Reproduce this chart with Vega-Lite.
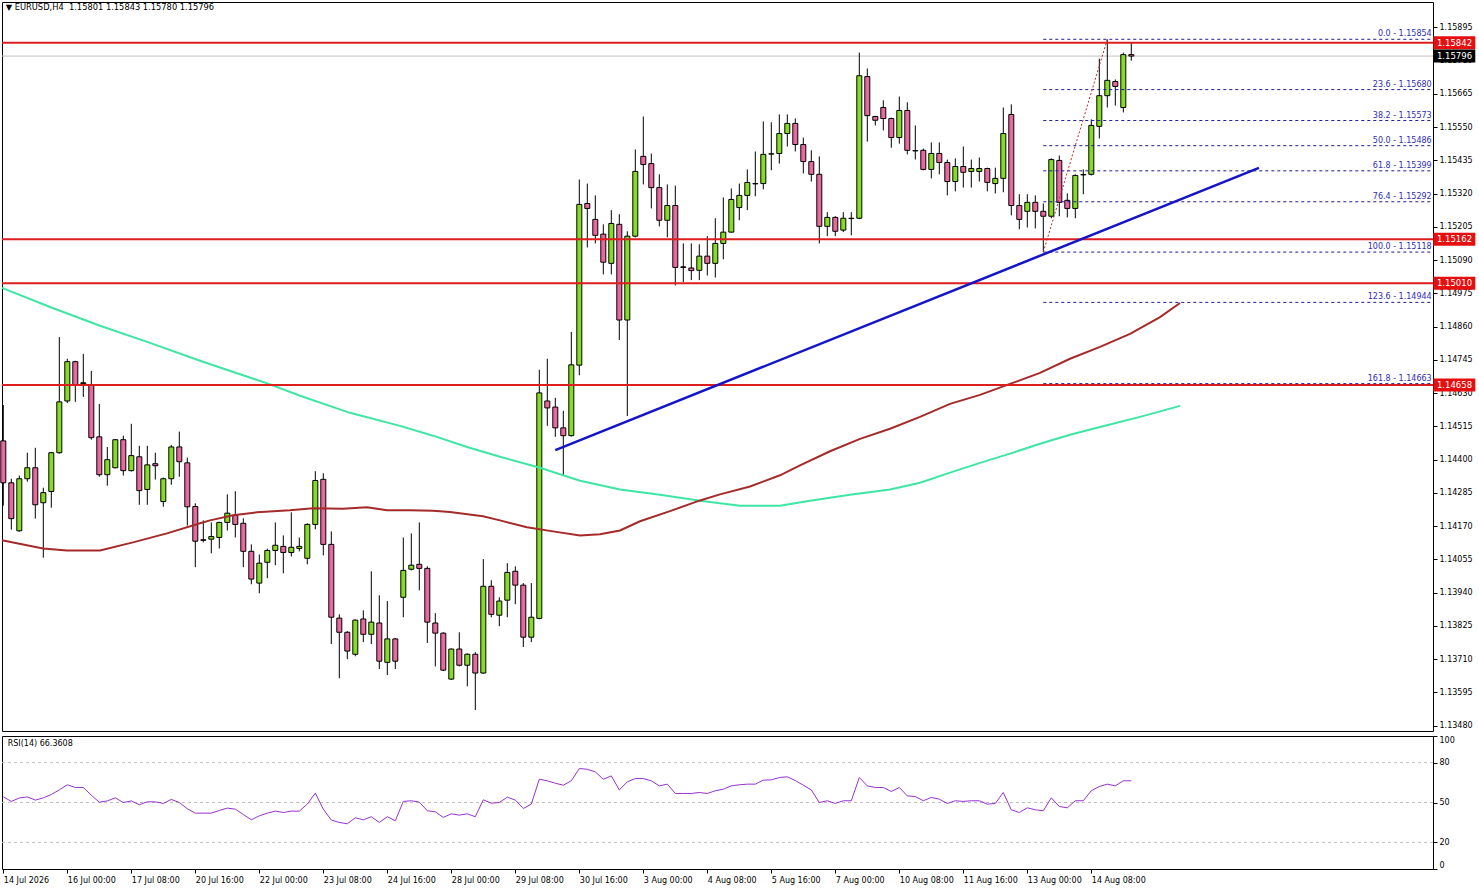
{
"$schema":"https://vega.github.io/schema/vega-lite/v6.json",
"background":"white",
"padding":{"left":-3,"top":1,"right":0,"bottom":0},
"autosize":{"type":"pad"},
"config":{"view":{"stroke":"#000000","strokeWidth":1},"font":"DejaVu Sans","scale":{"continuousPadding":0},"axis":{"labelFont":"DejaVu Sans","labelFontSize":8,"labelColor":"#000000","tickColor":"#000000","domainColor":"#000000","tickSize":4,"grid":false,"labelOverlap":false},"concat":{"spacing":3}},
"datasets":{
"candles":[
{"i":0,"o":1.14465,"h":1.14589,"l":1.14241,"c":1.1432},
{"i":1,"o":1.1432,"h":1.14334,"l":1.14158,"c":1.14196},
{"i":2,"o":1.14154,"h":1.14345,"l":1.14151,"c":1.14334},
{"i":3,"o":1.14334,"h":1.14424,"l":1.14324,"c":1.14372},
{"i":4,"o":1.14372,"h":1.14441,"l":1.14196,"c":1.14244},
{"i":5,"o":1.14251,"h":1.14303,"l":1.14061,"c":1.14286},
{"i":6,"o":1.1429,"h":1.14426,"l":1.14234,"c":1.14424},
{"i":7,"o":1.14424,"h":1.14824,"l":1.14421,"c":1.146},
{"i":8,"o":1.14603,"h":1.14749,"l":1.14596,"c":1.14739},
{"i":9,"o":1.14739,"h":1.14742,"l":1.146,"c":1.14659},
{"i":10,"o":1.14663,"h":1.14766,"l":1.14617,"c":1.14666},
{"i":11,"o":1.14659,"h":1.14707,"l":1.14469,"c":1.14476},
{"i":12,"o":1.14479,"h":1.14593,"l":1.14341,"c":1.14348},
{"i":13,"o":1.14348,"h":1.14444,"l":1.1431,"c":1.144},
{"i":14,"o":1.14372,"h":1.14471,"l":1.1437,"c":1.14469},
{"i":15,"o":1.14469,"h":1.14483,"l":1.14345,"c":1.14362},
{"i":16,"o":1.14362,"h":1.14524,"l":1.14359,"c":1.14414},
{"i":17,"o":1.1441,"h":1.14448,"l":1.14244,"c":1.14293},
{"i":18,"o":1.14297,"h":1.14448,"l":1.14244,"c":1.14382},
{"i":19,"o":1.14386,"h":1.14424,"l":1.14331,"c":1.14379},
{"i":20,"o":1.14255,"h":1.14338,"l":1.14237,"c":1.14334},
{"i":21,"o":1.14334,"h":1.14451,"l":1.14313,"c":1.14444},
{"i":22,"o":1.14444,"h":1.14497,"l":1.14341,"c":1.14393},
{"i":23,"o":1.14389,"h":1.14407,"l":1.14172,"c":1.14237},
{"i":24,"o":1.14238,"h":1.14249,"l":1.14028,"c":1.14118},
{"i":25,"o":1.14123,"h":1.1419,"l":1.14114,"c":1.14121},
{"i":26,"o":1.14125,"h":1.14183,"l":1.14076,"c":1.14134},
{"i":27,"o":1.14131,"h":1.14185,"l":1.14093,"c":1.14183},
{"i":28,"o":1.14183,"h":1.1428,"l":1.14155,"c":1.14215},
{"i":29,"o":1.14208,"h":1.14291,"l":1.14131,"c":1.14176},
{"i":30,"o":1.1418,"h":1.14197,"l":1.14028,"c":1.14083},
{"i":31,"o":1.14083,"h":1.14107,"l":1.13969,"c":1.13987},
{"i":32,"o":1.13973,"h":1.14072,"l":1.13938,"c":1.14042},
{"i":33,"o":1.14045,"h":1.14092,"l":1.1399,"c":1.14086},
{"i":34,"o":1.14086,"h":1.14183,"l":1.14035,"c":1.14104},
{"i":35,"o":1.141,"h":1.14138,"l":1.14007,"c":1.14079},
{"i":36,"o":1.14079,"h":1.14218,"l":1.14065,"c":1.14097},
{"i":37,"o":1.14093,"h":1.14131,"l":1.14083,"c":1.141},
{"i":38,"o":1.14059,"h":1.1418,"l":1.14038,"c":1.14176},
{"i":39,"o":1.14176,"h":1.1436,"l":1.14159,"c":1.14328},
{"i":40,"o":1.14332,"h":1.14353,"l":1.14069,"c":1.14107},
{"i":41,"o":1.14107,"h":1.14152,"l":1.13762,"c":1.13855},
{"i":42,"o":1.13852,"h":1.13865,"l":1.13644,"c":1.13803},
{"i":43,"o":1.13803,"h":1.13807,"l":1.1371,"c":1.13738},
{"i":44,"o":1.13727,"h":1.13847,"l":1.1372,"c":1.13845},
{"i":45,"o":1.13849,"h":1.13879,"l":1.13769,"c":1.13796},
{"i":46,"o":1.13796,"h":1.14014,"l":1.13762,"c":1.13838},
{"i":47,"o":1.13835,"h":1.13931,"l":1.13676,"c":1.13703},
{"i":48,"o":1.13699,"h":1.13911,"l":1.13655,"c":1.1378},
{"i":49,"o":1.1378,"h":1.13783,"l":1.13676,"c":1.13703},
{"i":50,"o":1.13924,"h":1.14131,"l":1.13855,"c":1.14017},
{"i":51,"o":1.14021,"h":1.14145,"l":1.14017,"c":1.14035},
{"i":52,"o":1.14038,"h":1.14183,"l":1.13948,"c":1.14024},
{"i":53,"o":1.14024,"h":1.14031,"l":1.13766,"c":1.13838},
{"i":54,"o":1.13835,"h":1.13869,"l":1.13685,"c":1.138},
{"i":55,"o":1.138,"h":1.13803,"l":1.13669,"c":1.13672},
{"i":56,"o":1.13641,"h":1.13747,"l":1.13638,"c":1.13745},
{"i":57,"o":1.13745,"h":1.13803,"l":1.13685,"c":1.13689},
{"i":58,"o":1.13689,"h":1.1373,"l":1.13616,"c":1.13727},
{"i":59,"o":1.13727,"h":1.13734,"l":1.13534,"c":1.13662},
{"i":60,"o":1.13662,"h":1.14056,"l":1.13659,"c":1.13962},
{"i":61,"o":1.13962,"h":1.13983,"l":1.13855,"c":1.13865},
{"i":62,"o":1.13862,"h":1.13924,"l":1.13824,"c":1.13911},
{"i":63,"o":1.13914,"h":1.14042,"l":1.13855,"c":1.1401},
{"i":64,"o":1.14014,"h":1.14031,"l":1.139,"c":1.13966},
{"i":65,"o":1.13966,"h":1.13973,"l":1.13752,"c":1.13786},
{"i":66,"o":1.13786,"h":1.13973,"l":1.13769,"c":1.13855},
{"i":67,"o":1.13851,"h":1.14711,"l":1.13848,"c":1.14631},
{"i":68,"o":1.14603,"h":1.14749,"l":1.14517,"c":1.14579},
{"i":69,"o":1.14582,"h":1.14614,"l":1.14479,"c":1.1451},
{"i":70,"o":1.1451,"h":1.14569,"l":1.14345,"c":1.14483},
{"i":71,"o":1.14483,"h":1.14842,"l":1.1448,"c":1.14728},
{"i":72,"o":1.14727,"h":1.15369,"l":1.14692,"c":1.15283},
{"i":73,"o":1.15286,"h":1.15355,"l":1.15134,"c":1.15269},
{"i":74,"o":1.15231,"h":1.15314,"l":1.15148,"c":1.15176},
{"i":75,"o":1.1518,"h":1.15214,"l":1.15041,"c":1.15083},
{"i":76,"o":1.15079,"h":1.15263,"l":1.15041,"c":1.15217},
{"i":77,"o":1.15214,"h":1.15249,"l":1.14814,"c":1.14883},
{"i":78,"o":1.14883,"h":1.1519,"l":1.14551,"c":1.15173},
{"i":79,"o":1.15173,"h":1.15473,"l":1.15169,"c":1.15397},
{"i":80,"o":1.15449,"h":1.15587,"l":1.15352,"c":1.15421},
{"i":81,"o":1.15424,"h":1.15459,"l":1.15269,"c":1.15341},
{"i":82,"o":1.15341,"h":1.15387,"l":1.15207,"c":1.15228},
{"i":83,"o":1.15228,"h":1.15352,"l":1.15169,"c":1.15279},
{"i":84,"o":1.15279,"h":1.15348,"l":1.15003,"c":1.15065},
{"i":85,"o":1.15067,"h":1.15148,"l":1.15014,"c":1.15065},
{"i":86,"o":1.15063,"h":1.15148,"l":1.15021,"c":1.15054},
{"i":87,"o":1.15055,"h":1.15145,"l":1.15021,"c":1.15104},
{"i":88,"o":1.15104,"h":1.15173,"l":1.15037,"c":1.15079},
{"i":89,"o":1.15079,"h":1.15235,"l":1.1503,"c":1.15148},
{"i":90,"o":1.15148,"h":1.15307,"l":1.15093,"c":1.15187},
{"i":91,"o":1.15187,"h":1.15338,"l":1.15185,"c":1.153},
{"i":92,"o":1.15272,"h":1.15355,"l":1.15228,"c":1.15314},
{"i":93,"o":1.15314,"h":1.15404,"l":1.15263,"c":1.15359},
{"i":94,"o":1.15355,"h":1.15466,"l":1.15311,"c":1.15354},
{"i":95,"o":1.15355,"h":1.1557,"l":1.15335,"c":1.15456},
{"i":96,"o":1.15457,"h":1.15567,"l":1.15401,"c":1.15458},
{"i":97,"o":1.15459,"h":1.15594,"l":1.15424,"c":1.15528},
{"i":98,"o":1.15528,"h":1.15594,"l":1.15483,"c":1.15563},
{"i":99,"o":1.15563,"h":1.1558,"l":1.15466,"c":1.1549},
{"i":100,"o":1.1549,"h":1.15514,"l":1.1539,"c":1.15431},
{"i":101,"o":1.15431,"h":1.1547,"l":1.15362,"c":1.15387},
{"i":102,"o":1.15387,"h":1.15449,"l":1.15148,"c":1.15207},
{"i":103,"o":1.15207,"h":1.15256,"l":1.15173,"c":1.15238},
{"i":104,"o":1.15238,"h":1.15242,"l":1.15173,"c":1.1519},
{"i":105,"o":1.15194,"h":1.15256,"l":1.15187,"c":1.15235},
{"i":106,"o":1.15235,"h":1.15256,"l":1.15176,"c":1.15234},
{"i":107,"o":1.15235,"h":1.15808,"l":1.15232,"c":1.15728},
{"i":108,"o":1.15725,"h":1.15753,"l":1.155,"c":1.1559},
{"i":109,"o":1.15587,"h":1.15589,"l":1.15556,"c":1.15574},
{"i":110,"o":1.15618,"h":1.15643,"l":1.15539,"c":1.1558},
{"i":111,"o":1.1558,"h":1.15583,"l":1.15479,"c":1.15514},
{"i":112,"o":1.15514,"h":1.15656,"l":1.15493,"c":1.15608},
{"i":113,"o":1.15608,"h":1.15636,"l":1.15456,"c":1.1547},
{"i":114,"o":1.15469,"h":1.15556,"l":1.15438,"c":1.15468},
{"i":115,"o":1.1547,"h":1.15476,"l":1.15401,"c":1.15404},
{"i":116,"o":1.15404,"h":1.15497,"l":1.15373,"c":1.15459},
{"i":117,"o":1.15459,"h":1.15497,"l":1.15387,"c":1.15428},
{"i":118,"o":1.15428,"h":1.15438,"l":1.15314,"c":1.15362},
{"i":119,"o":1.15362,"h":1.15442,"l":1.15328,"c":1.15414},
{"i":120,"o":1.15414,"h":1.15483,"l":1.15341,"c":1.15394},
{"i":121,"o":1.15397,"h":1.15438,"l":1.15341,"c":1.15407},
{"i":122,"o":1.15397,"h":1.15445,"l":1.15362,"c":1.15407},
{"i":123,"o":1.15407,"h":1.1541,"l":1.15328,"c":1.15359},
{"i":124,"o":1.15355,"h":1.1541,"l":1.15321,"c":1.15373},
{"i":125,"o":1.15373,"h":1.15618,"l":1.15325,"c":1.15528},
{"i":126,"o":1.15594,"h":1.15629,"l":1.15245,"c":1.15279},
{"i":127,"o":1.15279,"h":1.15318,"l":1.15197,"c":1.15231},
{"i":128,"o":1.15259,"h":1.15318,"l":1.15203,"c":1.1529},
{"i":129,"o":1.1529,"h":1.15314,"l":1.152,"c":1.15259},
{"i":130,"o":1.15259,"h":1.15286,"l":1.15118,"c":1.15242},
{"i":131,"o":1.15242,"h":1.15442,"l":1.15235,"c":1.15438},
{"i":132,"o":1.15435,"h":1.15452,"l":1.15242,"c":1.1529},
{"i":133,"o":1.15297,"h":1.15321,"l":1.15238,"c":1.15269},
{"i":134,"o":1.15269,"h":1.15387,"l":1.15235,"c":1.15383},
{"i":135,"o":1.15385,"h":1.15404,"l":1.15318,"c":1.15386},
{"i":136,"o":1.15387,"h":1.15577,"l":1.15383,"c":1.15556},
{"i":137,"o":1.15553,"h":1.15787,"l":1.15511,"c":1.15659},
{"i":138,"o":1.15659,"h":1.15854,"l":1.15618,"c":1.15712},
{"i":139,"o":1.15708,"h":1.15715,"l":1.15625,"c":1.15691},
{"i":140,"o":1.15618,"h":1.15808,"l":1.15601,"c":1.15801},
{"i":141,"o":1.15801,"h":1.15843,"l":1.1578,"c":1.15796}
],
"maG":[
{"i":-0.16,"p":1.14994},{"i":5.84,"p":1.14928},{"i":12.09,"p":1.14863},{"i":18.34,"p":1.14804},{"i":24.59,"p":1.14742},{"i":33.09,"p":1.14663},{"i":37.09,"p":1.14621},{"i":43.34,"p":1.14562},{"i":49.59,"p":1.14517},{"i":53.71,"p":1.14483},{"i":57.96,"p":1.14444},{"i":62.09,"p":1.1441},{"i":67.09,"p":1.14372},{"i":72.09,"p":1.14327},{"i":77.09,"p":1.14297},{"i":82.09,"p":1.14279},{"i":87.09,"p":1.14258},{"i":92.09,"p":1.14241},{"i":97.09,"p":1.14241},{"i":100.84,"p":1.14258},{"i":105.84,"p":1.14279},{"i":110.84,"p":1.14297},{"i":114.59,"p":1.1432},{"i":118.34,"p":1.14355},{"i":122.09,"p":1.14389},{"i":125.84,"p":1.14421},{"i":129.59,"p":1.14455},{"i":133.34,"p":1.14486},{"i":137.09,"p":1.14513},{"i":142.09,"p":1.14548},{"i":147.09,"p":1.14586}
],
"maB":[
{"i":-0.16,"p":1.14121},{"i":4.96,"p":1.14093},{"i":7.96,"p":1.14086},{"i":12.09,"p":1.14086},{"i":16.21,"p":1.14114},{"i":20.46,"p":1.14145},{"i":24.59,"p":1.1418},{"i":25.84,"p":1.1419},{"i":28.71,"p":1.14208},{"i":31.71,"p":1.14218},{"i":35.84,"p":1.14225},{"i":38.71,"p":1.14232},{"i":42.46,"p":1.1423},{"i":45.46,"p":1.14235},{"i":47.96,"p":1.14225},{"i":50.84,"p":1.14225},{"i":53.71,"p":1.14223},{"i":55.84,"p":1.14219},{"i":59.96,"p":1.14204},{"i":62.09,"p":1.1419},{"i":65.46,"p":1.14166},{"i":68.71,"p":1.14152},{"i":72.09,"p":1.14138},{"i":74.59,"p":1.14142},{"i":77.09,"p":1.14155},{"i":79.59,"p":1.14187},{"i":83.34,"p":1.14222},{"i":87.09,"p":1.14259},{"i":89.59,"p":1.1428},{"i":93.34,"p":1.14307},{"i":97.09,"p":1.14346},{"i":99.59,"p":1.1438},{"i":103.34,"p":1.14429},{"i":107.09,"p":1.14472},{"i":110.84,"p":1.14507},{"i":114.59,"p":1.14548},{"i":118.34,"p":1.14593},{"i":122.09,"p":1.14624},{"i":125.84,"p":1.14662},{"i":129.59,"p":1.147},{"i":133.34,"p":1.14749},{"i":137.09,"p":1.1479},{"i":140.84,"p":1.14835},{"i":144.59,"p":1.14893},{"i":147.09,"p":1.14942}
],
"rsi":[
{"i":0,"v":54.3},{"i":1,"v":50.8},{"i":2,"v":53.4},{"i":3,"v":54.2},{"i":4,"v":51.8},{"i":5,"v":53.5},{"i":6,"v":56},{"i":7,"v":59.5},{"i":8,"v":63.3},{"i":9,"v":61.3},{"i":10,"v":61.3},{"i":11,"v":55.5},{"i":12,"v":50.2},{"i":13,"v":51.2},{"i":14,"v":53.5},{"i":15,"v":50},{"i":16,"v":51.2},{"i":17,"v":48.3},{"i":18,"v":50.5},{"i":19,"v":50.5},{"i":20,"v":49.3},{"i":21,"v":52.3},{"i":22,"v":50},{"i":23,"v":45.3},{"i":24,"v":42},{"i":25,"v":42},{"i":26,"v":42},{"i":27,"v":44},{"i":28,"v":45.8},{"i":29,"v":45},{"i":30,"v":41},{"i":31,"v":37},{"i":32,"v":40},{"i":33,"v":42},{"i":34,"v":43.5},{"i":35,"v":42.5},{"i":36,"v":43.5},{"i":37,"v":43.5},{"i":38,"v":48.8},{"i":39,"v":57},{"i":40,"v":45},{"i":41,"v":36.8},{"i":42,"v":35},{"i":43,"v":34},{"i":44,"v":38.5},{"i":45,"v":37},{"i":46,"v":39.3},{"i":47,"v":35},{"i":48,"v":39.3},{"i":49,"v":36.3},{"i":50,"v":50.8},{"i":51,"v":51.3},{"i":52,"v":50.3},{"i":53,"v":43.8},{"i":54,"v":43},{"i":55,"v":38.8},{"i":56,"v":41.5},{"i":57,"v":40.5},{"i":58,"v":41.5},{"i":59,"v":39.3},{"i":60,"v":52},{"i":61,"v":49.5},{"i":62,"v":50},{"i":63,"v":54},{"i":64,"v":51.8},{"i":65,"v":45.5},{"i":66,"v":48.8},{"i":67,"v":67.5},{"i":68,"v":66.3},{"i":69,"v":64.5},{"i":70,"v":63},{"i":71,"v":66.3},{"i":72,"v":75.5},{"i":73,"v":75},{"i":74,"v":73},{"i":75,"v":67.5},{"i":76,"v":70},{"i":77,"v":59.5},{"i":78,"v":65.5},{"i":79,"v":68},{"i":80,"v":68},{"i":81,"v":66.3},{"i":82,"v":62.5},{"i":83,"v":63.8},{"i":84,"v":56.8},{"i":85,"v":56.8},{"i":86,"v":56.8},{"i":87,"v":57.5},{"i":88,"v":56.8},{"i":89,"v":58.8},{"i":90,"v":60},{"i":91,"v":62.5},{"i":92,"v":63.3},{"i":93,"v":63.8},{"i":94,"v":63.8},{"i":95,"v":66.8},{"i":96,"v":67},{"i":97,"v":68.8},{"i":98,"v":69.3},{"i":99,"v":66.5},{"i":100,"v":63},{"i":101,"v":59.5},{"i":102,"v":50},{"i":103,"v":51.3},{"i":104,"v":49.3},{"i":105,"v":51.3},{"i":106,"v":51.3},{"i":107,"v":68.8},{"i":108,"v":62.5},{"i":109,"v":61.3},{"i":110,"v":61.3},{"i":111,"v":58.3},{"i":112,"v":61.3},{"i":113,"v":55},{"i":114,"v":54.5},{"i":115,"v":51.3},{"i":116,"v":53.8},{"i":117,"v":52.5},{"i":118,"v":49.3},{"i":119,"v":51.3},{"i":120,"v":50.8},{"i":121,"v":51.3},{"i":122,"v":51.3},{"i":123,"v":48.8},{"i":124,"v":49.3},{"i":125,"v":57.5},{"i":126,"v":44.5},{"i":127,"v":42.5},{"i":128,"v":46},{"i":129,"v":44.5},{"i":130,"v":43.8},{"i":131,"v":53.5},{"i":132,"v":47},{"i":133,"v":46},{"i":134,"v":51.3},{"i":135,"v":51.3},{"i":136,"v":58.8},{"i":137,"v":62},{"i":138,"v":63.8},{"i":139,"v":62.5},{"i":140,"v":66.3},{"i":141,"v":66.36}
],
"levels":[
{"p":1.15842,"kind":"sr","t":"1.15842"},{"p":1.15162,"kind":"sr","t":"1.15162"},{"p":1.1501,"kind":"sr","t":"1.15010"},{"p":1.14658,"kind":"sr","t":"1.14658"},{"p":1.15796,"kind":"cur","t":"1.15796"}
],
"fib":[
{"p":1.15854,"t":"0.0 - 1.15854"},{"p":1.1568,"t":"23.6 - 1.15680"},{"p":1.15573,"t":"38.2 - 1.15573"},{"p":1.15486,"t":"50.0 - 1.15486"},{"p":1.15399,"t":"61.8 - 1.15399"},{"p":1.15292,"t":"76.4 - 1.15292"},{"p":1.15118,"t":"100.0 - 1.15118"},{"p":1.14944,"t":"123.6 - 1.14944"},{"p":1.14663,"t":"161.8 - 1.14663"}
],
"trend":[{"i":69.0,"p":1.14433},{"i":156.96,"p":1.15409}],
"diag":[{"i":130,"p":1.15118},{"i":138,"p":1.15854}],
"rsiLevels":[{"v":80},{"v":50},{"v":20}]
},
"resolve":{"scale":{"x":"independent","y":"independent"}},
"vconcat":[
{
"width":1431,"height":729,
"layer":[
{"data":{"name":"levels"},"transform":[{"filter":"datum.kind == 'cur'"}],"mark":{"type":"rule","color":"#c0c0c0","strokeWidth":1},
 "encoding":{"y":{"field":"p","type":"quantitative","scale":{"domain":[1.134615,1.15983],"nice":false,"zero":false,"padding":0},"axis":{"orient":"right","title":null,"domain":false,"labelPadding":2,"labelOverlap":false,"tickCount":40,"format":".5f","values":[1.1348,1.13595,1.1371,1.13825,1.1394,1.14055,1.1417,1.14285,1.144,1.14515,1.1463,1.14745,1.1486,1.14975,1.1509,1.15205,1.1532,1.15435,1.1555,1.15665,1.1578,1.15895]}}}},
{"data":{"name":"candles"},"mark":{"type":"rule","color":"#000000","strokeWidth":1},
 "encoding":{"x":{"field":"i","type":"quantitative","scale":{"domain":[-0.1625,178.7125],"nice":false,"zero":false,"padding":0},"axis":null},
 "y":{"field":"l","type":"quantitative"},"y2":{"field":"h"}}},
{"data":{"name":"candles"},"mark":{"type":"bar","size":5,"stroke":"#000000","strokeWidth":1},
 "encoding":{"x":{"field":"i","type":"quantitative"},"y":{"field":"o","type":"quantitative"},"y2":{"field":"c"},
 "fill":{"condition":{"test":"datum.c >= datum.o","value":"#86dc1e"},"value":"#e8699f"}}},
{"data":{"name":"maG"},"mark":{"type":"line","color":"#3ee6a4","strokeWidth":2},
 "encoding":{"x":{"field":"i","type":"quantitative"},"y":{"field":"p","type":"quantitative"}}},
{"data":{"name":"maB"},"mark":{"type":"line","color":"#a52a2a","strokeWidth":2},
 "encoding":{"x":{"field":"i","type":"quantitative"},"y":{"field":"p","type":"quantitative"}}},
{"data":{"name":"levels"},"transform":[{"filter":"datum.kind == 'sr'"}],"mark":{"type":"rule","color":"#dc1e1e","strokeWidth":2},
 "encoding":{"y":{"field":"p","type":"quantitative"}}},
{"data":{"name":"fib"},"mark":{"type":"rule","color":"#1a1a9a","strokeWidth":1,"strokeDash":[3,3]},
 "encoding":{"x":{"datum":130,"type":"quantitative"},"x2":{"datum":178.7125},"y":{"field":"p","type":"quantitative"}}},
{"data":{"name":"fib"},"mark":{"type":"text","align":"right","baseline":"bottom","dy":-1,"font":"DejaVu Sans","fontSize":8,"color":"#2e2eb8"},
 "encoding":{"x":{"datum":178.55,"type":"quantitative"},"y":{"field":"p","type":"quantitative"},"text":{"field":"t"}}},
{"data":{"name":"diag"},"mark":{"type":"line","color":"#cc2222","strokeWidth":1,"strokeDash":[2,2]},
 "encoding":{"x":{"field":"i","type":"quantitative"},"y":{"field":"p","type":"quantitative"}}},
{"data":{"name":"trend"},"mark":{"type":"line","color":"#1414c8","strokeWidth":2.5},
 "encoding":{"x":{"field":"i","type":"quantitative"},"y":{"field":"p","type":"quantitative"}}},
{"data":{"name":"levels"},"mark":{"type":"bar","orient":"horizontal","size":13},
 "encoding":{"x":{"datum":178.75,"type":"quantitative"},"x2":{"datum":184.0},"y":{"field":"p","type":"quantitative"},
 "color":{"condition":{"test":"datum.kind == 'cur'","value":"#000000"},"value":"#e60f0f"}}},
{"data":{"name":"levels"},"mark":{"type":"text","align":"center","baseline":"middle","font":"DejaVu Sans","fontSize":8.5,"color":"#ffffff"},
 "encoding":{"x":{"datum":181.4,"type":"quantitative"},"y":{"field":"p","type":"quantitative"},"text":{"field":"t"}}},
{"data":{"values":[{"t":"▼ EURUSD,H4\u00a0 1.15801 1.15843 1.15780 1.15796"}]},"mark":{"type":"text","align":"left","baseline":"middle","font":"DejaVu Sans","fontSize":8.3,"color":"#000000"},
 "encoding":{"x":{"datum":0.3,"type":"quantitative"},"y":{"datum":1.15962,"type":"quantitative"},"text":{"field":"t"}}}
]
},
{
"width":1431,"height":133,
"layer":[
{"data":{"name":"rsiLevels"},"mark":{"type":"rule","color":"#c0c0c0","strokeWidth":1,"strokeDash":[3,3]},
 "encoding":{"y":{"field":"v","type":"quantitative","scale":{"domain":[0,100],"nice":false,"zero":false,"padding":0},"axis":{"orient":"right","title":null,"domain":false,"values":[0,20,50,80,100],"tickCount":20,"labelFlush":true,"labelPadding":2,"labelOverlap":false}}}},
{"data":{"name":"rsi"},"mark":{"type":"line","color":"#9932cc","strokeWidth":1},
 "encoding":{"x":{"field":"i","type":"quantitative","scale":{"domain":[-0.1625,178.7125],"nice":false,"zero":false,"padding":0},
 "axis":{"orient":"bottom","title":null,"domain":false,"tickCount":40,"values":[0,8,16,24,32,40,48,56,64,72,80,88,96,104,112,120,128,136],"labelAlign":"left","labelFlush":false,"labelOverlap":false,"labelPadding":3,"labelExpr":"['14 Jul 2026','16 Jul 00:00','17 Jul 08:00','20 Jul 16:00','22 Jul 00:00','23 Jul 08:00','24 Jul 16:00','28 Jul 00:00','29 Jul 08:00','30 Jul 16:00','3 Aug 00:00','4 Aug 08:00','5 Aug 16:00','7 Aug 00:00','10 Aug 08:00','11 Aug 16:00','13 Aug 00:00','14 Aug 08:00'][round(datum.value/8)]"}},
 "y":{"field":"v","type":"quantitative"}}},
{"data":{"values":[{"t":"RSI(14) 66.3608"}]},"mark":{"type":"text","align":"left","baseline":"middle","font":"DejaVu Sans","fontSize":8,"color":"#000000"},
 "encoding":{"x":{"datum":0.55,"type":"quantitative"},"y":{"datum":94,"type":"quantitative"},"text":{"field":"t"}}}
]
}
]
}
